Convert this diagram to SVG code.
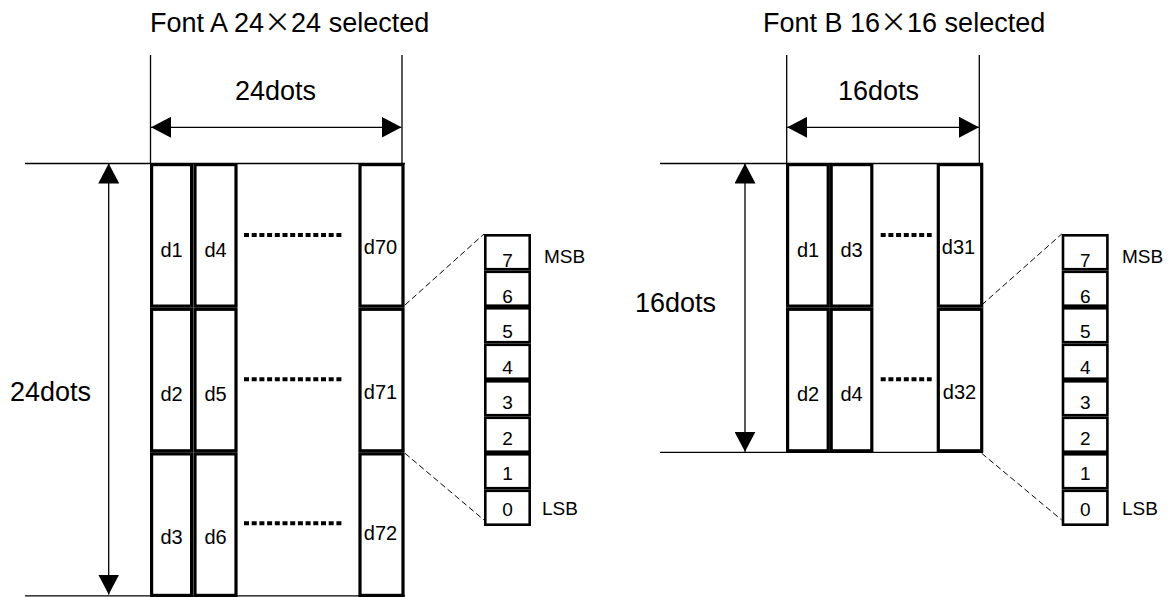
<svg xmlns="http://www.w3.org/2000/svg" width="1171" height="597" viewBox="0 0 1171 597">
<style>
text{font-family:"Liberation Sans",Arial,sans-serif;fill:#000}
.title{font-size:27px}
.dim{font-size:27px}
.lbl{font-size:20px;text-anchor:middle}
.bit{font-size:19px;text-anchor:middle}
.sb{font-size:19px}
.thin{stroke:#000;stroke-width:1.3;fill:none}
.cell{fill:#fff;stroke:#000;stroke-width:3.2}
.bitc{fill:#fff;stroke:#000;stroke-width:2.6}
.dots{stroke:#000;stroke-width:4;stroke-dasharray:5 2.7;fill:none}
.dash{stroke:#000;stroke-width:1;stroke-dasharray:6 3.3;fill:none}
.arr{stroke:#000;stroke-width:1.3;fill:none;marker-start:url(#ah);marker-end:url(#ah)}
.x{font-family:"Noto Sans CJK JP",sans-serif}
</style>
<defs>
<marker id="ah" viewBox="0 0 20 21" refX="20" refY="10.5" markerWidth="20" markerHeight="21" markerUnits="userSpaceOnUse" orient="auto-start-reverse">
<path d="M0,0 L20,10.5 L0,21 Z" fill="#000"/>
</marker>
</defs>

<g id="fontA">
<text class="title" x="150" y="32">Font A 24<tspan class="x">×</tspan>24 selected</text>
<g id="fontA-guides">
<line class="thin" x1="150.5" y1="55" x2="150.5" y2="163"/>
<line class="thin" x1="402" y1="55" x2="402" y2="163"/>
<line class="thin" x1="25" y1="163.5" x2="405" y2="163.5"/>
<line class="thin" x1="25" y1="595.8" x2="405" y2="595.8"/>
</g>
<text class="dim" x="235" y="100">24dots</text>
<text class="dim" x="10" y="401">24dots</text>
<g id="fontA-cells">
<rect class="cell" x="151.6" y="164.6" width="40" height="141.5"/>
<rect class="cell" x="151.6" y="309.3" width="40" height="141.5"/>
<rect class="cell" x="151.6" y="453.9" width="40" height="141.5"/>
<rect class="cell" x="195" y="164.6" width="41" height="141.5"/>
<rect class="cell" x="195" y="309.3" width="41" height="141.5"/>
<rect class="cell" x="195" y="453.9" width="41" height="141.5"/>
<rect class="cell" x="360" y="164.6" width="43" height="141.5"/>
<rect class="cell" x="360" y="309.3" width="43" height="141.5"/>
<rect class="cell" x="360" y="453.9" width="43" height="141.5"/>
</g>
<g id="fontA-labels">
<text class="lbl" x="171.5" y="257">d1</text>
<text class="lbl" x="171.5" y="400.5">d2</text>
<text class="lbl" x="171.5" y="543.5">d3</text>
<text class="lbl" x="215.5" y="257">d4</text>
<text class="lbl" x="215.5" y="400.5">d5</text>
<text class="lbl" x="215.5" y="543.5">d6</text>
<text class="lbl" x="380.5" y="254">d70</text>
<text class="lbl" x="380.5" y="399">d71</text>
<text class="lbl" x="380.5" y="539.5">d72</text>
</g>
<g id="fontA-dots">
<line class="dots" x1="244" y1="235" x2="344" y2="235"/>
<line class="dots" x1="244" y1="379.3" x2="344" y2="379.3"/>
<line class="dots" x1="244" y1="523.3" x2="344" y2="523.3"/>
</g>
</g>

<g id="byteA">
<rect class="bitc" x="485.3" y="235.3" width="44.4" height="33.9"/>
<rect class="bitc" x="485.3" y="271.8" width="44.4" height="33.9"/>
<rect class="bitc" x="485.3" y="308.3" width="44.4" height="33.9"/>
<rect class="bitc" x="485.3" y="344.8" width="44.4" height="33.9"/>
<rect class="bitc" x="485.3" y="381.3" width="44.4" height="33.9"/>
<rect class="bitc" x="485.3" y="417.8" width="44.4" height="33.9"/>
<rect class="bitc" x="485.3" y="454.3" width="44.4" height="33.9"/>
<rect class="bitc" x="485.3" y="490.8" width="44.4" height="33.9"/>
<text class="bit" x="507.5" y="267">7</text>
<text class="bit" x="507.5" y="302.5">6</text>
<text class="bit" x="507.5" y="338">5</text>
<text class="bit" x="507.5" y="373.5">4</text>
<text class="bit" x="507.5" y="409">3</text>
<text class="bit" x="507.5" y="444.5">2</text>
<text class="bit" x="507.5" y="480">1</text>
<text class="bit" x="507.5" y="515.5">0</text>
<text class="sb" x="544" y="263">MSB</text>
<text class="sb" x="542" y="515">LSB</text>
</g>

<g id="fontB">
<text class="title" x="763" y="32">Font B 16<tspan class="x">×</tspan>16 selected</text>
<g id="fontB-guides">
<line class="thin" x1="786.7" y1="55" x2="786.7" y2="163"/>
<line class="thin" x1="979.3" y1="55" x2="979.3" y2="163"/>
<line class="thin" x1="660" y1="163.5" x2="983" y2="163.5"/>
<line class="thin" x1="660" y1="452.3" x2="983" y2="452.3"/>
</g>
<text class="dim" x="838" y="100">16dots</text>
<text class="dim" x="635" y="311.7">16dots</text>
<g id="fontB-cells">
<rect class="cell" x="787.6" y="164.6" width="40.6" height="141.5"/>
<rect class="cell" x="787.6" y="309.3" width="40.6" height="141.5"/>
<rect class="cell" x="831.2" y="164.6" width="40.6" height="141.5"/>
<rect class="cell" x="831.2" y="309.3" width="40.6" height="141.5"/>
<rect class="cell" x="938.3" y="164.6" width="43.4" height="141.5"/>
<rect class="cell" x="938.3" y="309.3" width="43.4" height="141.5"/>
</g>
<g id="fontB-labels">
<text class="lbl" x="808" y="257">d1</text>
<text class="lbl" x="808" y="400.5">d2</text>
<text class="lbl" x="851.5" y="257">d3</text>
<text class="lbl" x="851.5" y="400.5">d4</text>
<text class="lbl" x="958.5" y="254">d31</text>
<text class="lbl" x="959.5" y="399.3">d32</text>
</g>
<g id="fontB-dots">
<line class="dots" x1="880.7" y1="235" x2="931.7" y2="235"/>
<line class="dots" x1="880.7" y1="379.3" x2="931.7" y2="379.3"/>
</g>
</g>

<g id="byteB">
<rect class="bitc" x="1063" y="235.3" width="44.4" height="33.9"/>
<rect class="bitc" x="1063" y="271.8" width="44.4" height="33.9"/>
<rect class="bitc" x="1063" y="308.3" width="44.4" height="33.9"/>
<rect class="bitc" x="1063" y="344.8" width="44.4" height="33.9"/>
<rect class="bitc" x="1063" y="381.3" width="44.4" height="33.9"/>
<rect class="bitc" x="1063" y="417.8" width="44.4" height="33.9"/>
<rect class="bitc" x="1063" y="454.3" width="44.4" height="33.9"/>
<rect class="bitc" x="1063" y="490.8" width="44.4" height="33.9"/>
<text class="bit" x="1085.2" y="267">7</text>
<text class="bit" x="1085.2" y="302.5">6</text>
<text class="bit" x="1085.2" y="338">5</text>
<text class="bit" x="1085.2" y="373.5">4</text>
<text class="bit" x="1085.2" y="409">3</text>
<text class="bit" x="1085.2" y="444.5">2</text>
<text class="bit" x="1085.2" y="480">1</text>
<text class="bit" x="1085.2" y="515.5">0</text>
<text class="sb" x="1122" y="263">MSB</text>
<text class="sb" x="1122" y="515">LSB</text>
</g>

<g id="connectors">
<line class="arr" x1="151" y1="127.3" x2="401.5" y2="127.3"/>
<line class="arr" x1="108.7" y1="163.5" x2="108.7" y2="594.5"/>
<line class="arr" x1="787.2" y1="127.3" x2="979" y2="127.3"/>
<line class="arr" x1="745" y1="163.5" x2="745" y2="451.7"/>
<line class="dash" x1="405" y1="305" x2="484" y2="234"/>
<line class="dash" x1="405" y1="453.3" x2="484" y2="520"/>
<line class="dash" x1="981.7" y1="305" x2="1061.7" y2="234"/>
<line class="dash" x1="981.7" y1="453.3" x2="1061.7" y2="520"/>
</g>
</svg>
